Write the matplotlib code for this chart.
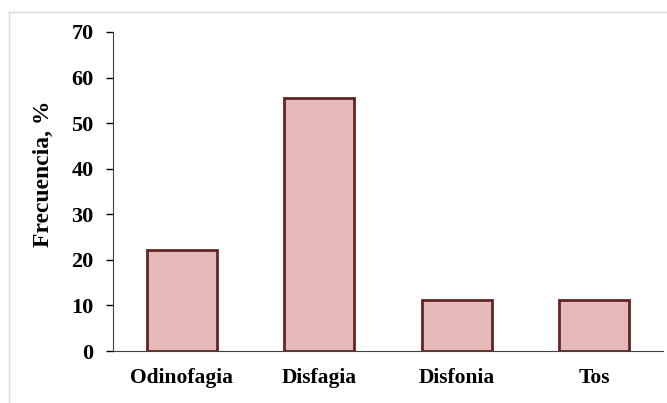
import matplotlib.pyplot as plt
from matplotlib.lines import Line2D

categories = ['Odinofagia', 'Disfagia', 'Disfonia', 'Tos']
frecuencia = [22.2, 55.6, 11.1, 11.1]
yticks = [0, 10, 20, 30, 40, 50, 60, 70]

plt.rcParams['font.family'] = ['Liberation Serif', 'DejaVu Serif']
plt.rcParams['font.weight'] = 'bold'

fig = plt.figure(figsize=(6.67, 4.03), dpi=100)
ax = fig.add_axes([0.1694, 0.129, 0.8246, 0.7916])

x = list(range(len(categories)))
ax.bar(x, frecuencia, width=0.51, color='#E6B8B7', edgecolor='#632523', linewidth=2)

ax.set_xlim(-0.5, len(categories) - 0.5)
ax.set_ylim(0, 70)
ax.set_yticks(yticks)
ax.set_yticklabels([str(t) for t in yticks], fontsize=16, fontweight='bold')
ax.set_xticks(x)
ax.set_xticklabels(categories, fontsize=15.5, fontweight='bold')
ax.tick_params(axis='x', length=0, pad=12)
ax.tick_params(axis='y', direction='out', length=5, width=1, pad=9)
ax.set_ylabel('Frecuencia, %', fontsize=17, fontweight='bold')
ax.yaxis.set_label_coords(-0.107, 0.555)

for s in ['top', 'right']:
    ax.spines[s].set_visible(False)
ax.spines['left'].set_color('#404040')
ax.spines['bottom'].set_color('#404040')

# light frame around the chart area
fx = 9 / 667
fy = 1 - 12 / 403
fig.add_artist(Line2D([fx, fx], [0, fy], transform=fig.transFigure, color='#d9d9d9', lw=1))
fig.add_artist(Line2D([fx, 1], [fy, fy], transform=fig.transFigure, color='#d9d9d9', lw=1))

fig.savefig('out.png', dpi=100)
